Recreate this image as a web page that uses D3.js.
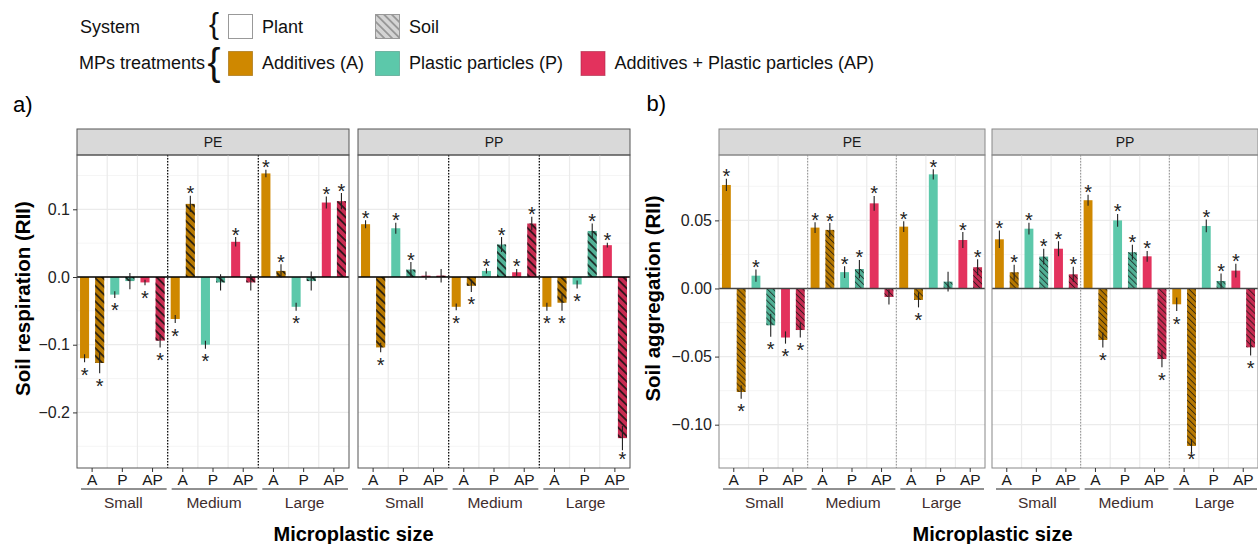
<!DOCTYPE html>
<html lang="en">
<head>
<meta charset="UTF-8">
<title>Microplastic effects (RII)</title>
<script src="https://cdnjs.cloudflare.com/ajax/libs/d3/7.8.5/d3.min.js"></script>
<style>
  body { margin: 0; background: #fff; }
  svg { display: block; font-family: "Liberation Sans", Arial, sans-serif; }
</style>
</head>
<body>
<svg id="chart" width="1258" height="544"></svg>
<script>
const sizes = ["Small", "Medium", "Large"];
const treatments = ["A", "P", "AP"];
const systems = ["Plant", "Soil"];
const polymers = ["PE", "PP"];
const treatmentColors = { A: "#CF8800", P: "#5CC8AA", AP: "#E3325D" };
const treatmentLabels = ["Additives (A)", "Plastic particles (P)", "Additives + Plastic particles (AP)"];

// every series is ordered size -> treatment -> system (Plant, Soil)
const respPE    = [-0.120, -0.127, -0.026, -0.006, -0.008, -0.094,
                   -0.062,  0.108, -0.100, -0.008,  0.052, -0.008,
                    0.153,  0.009, -0.044, -0.006,  0.110,  0.112];
const respPEse  = [0.006, 0.015, 0.005, 0.012, 0.004, 0.010,
                   0.006, 0.012, 0.006, 0.012, 0.007, 0.012,
                   0.0055, 0.010, 0.006, 0.014, 0.009, 0.012];
const respPEsig = [1, 1, 1, 0, 1, 1,  1, 1, 1, 0, 1, 0,  1, 1, 1, 0, 1, 1];

const respPP    = [ 0.078, -0.104,  0.072,  0.011,  0.002,  0.002,
                   -0.044, -0.013,  0.009,  0.048,  0.007,  0.079,
                   -0.044, -0.038, -0.011,  0.068,  0.047, -0.238];
const respPPse  = [0.006, 0.007, 0.008, 0.011, 0.006, 0.010,
                   0.005, 0.009, 0.004, 0.011, 0.005, 0.010,
                   0.006, 0.012, 0.006, 0.011, 0.0035, 0.018];
const respPPsig = [1, 1, 1, 1, 0, 0,  1, 1, 1, 1, 1, 1,  1, 1, 1, 1, 1, 1];

const aggPE     = [ 0.076, -0.076,  0.0094, -0.027, -0.036, -0.0305,
                    0.0447, 0.043,  0.012,   0.0143, 0.0625, -0.0062,
                    0.0454, -0.0084, 0.0838, 0.005,  0.0356, 0.0156];
const aggPEse   = [0.0045, 0.005, 0.0045, 0.0085, 0.0045, 0.0055,
                   0.004, 0.005, 0.0043, 0.0067, 0.0054, 0.0055,
                   0.004, 0.0055, 0.0038, 0.0073, 0.0058, 0.0058];
const aggPEsig  = [1, 1, 1, 1, 1, 1,  1, 1, 1, 1, 1, 0,  1, 1, 1, 0, 1, 1];

const aggPP     = [ 0.0361,  0.0119, 0.0439, 0.0234, 0.0292,  0.0104,
                    0.0648, -0.0378, 0.050,  0.0266, 0.0236, -0.0518,
                   -0.0116, -0.1156, 0.0459, 0.0055, 0.0131, -0.0432];
const aggPPse   = [0.0064, 0.0055, 0.0043, 0.0058, 0.0055, 0.0055,
                   0.004, 0.0055, 0.0047, 0.0055, 0.004, 0.006,
                   0.005, 0.005, 0.0047, 0.0055, 0.005, 0.006];
const aggPPsig  = [1, 1, 1, 1, 1, 1,  1, 1, 1, 1, 1, 1,  1, 1, 1, 1, 1, 1];

const respTicks = [0.1, 0.0, -0.1, -0.2];
const aggTicks = [0.05, 0.00, -0.05, -0.10];

const svg = d3.select("#chart");
const defs = svg.append("defs");

// diagonal stripes used for the "Soil" bars
function stripePattern(id, size, width, color, opacity) {
  const p = defs.append("pattern")
      .attr("id", id)
      .attr("patternUnits", "userSpaceOnUse")
      .attr("width", size).attr("height", size)
      .attr("patternTransform", "rotate(45)");
  p.append("line")
      .attr("x1", 0).attr("x2", size)
      .attr("y1", size / 2).attr("y2", size / 2)
      .attr("stroke", color).attr("stroke-width", width)
      .attr("stroke-opacity", opacity);
}
stripePattern("stripesA", 5.5, 1.7, "#111", 0.85);
stripePattern("stripesB", 4.2, 1.0, "#111", 0.75);
stripePattern("stripesLegend", 5.5, 1.5, "#8a8a8a", 1);

function buildRows(mean, se, sig) {
  const out = [];
  let i = 0;
  sizes.forEach(size => treatments.forEach(tr => systems.forEach(sys => {
    out.push({ size, tr, sys, mean: mean[i], se: se[i], sig: sig[i] });
    i++;
  })));
  return out;
}

function drawPanel(opt) {
  const { x0, w, y, rows, label, ticks, fmt, showY, style } = opt;
  const top = y.range()[1], bottom = y.range()[0];
  const g = svg.append("g");

  const pairKeys = sizes.flatMap(s => treatments.map(t => s + "|" + t));
  const xPair = d3.scaleBand().domain(pairKeys).range([x0, x0 + w]);
  const xSys = d3.scaleBand().domain(systems).range([0, xPair.bandwidth()])
      .paddingInner(0.4).paddingOuter(0.2);
  const xSize = d3.scaleBand().domain(sizes).range([x0, x0 + w]);

  // strip
  g.append("rect")
      .attr("x", x0).attr("y", top - 26).attr("width", w).attr("height", 26)
      .attr("fill", "#D9D9D9").attr("stroke", style === "a" ? "#555" : "#888").attr("stroke-width", 1);
  g.append("text")
      .attr("x", x0 + w / 2).attr("y", top - 13).attr("dy", "0.35em")
      .attr("text-anchor", "middle").attr("font-size", 14).attr("fill", "#1a1a1a")
      .text(label);

  // grid
  const step = Math.abs(ticks[0] - ticks[1]);
  const minor = d3.range(-20, 20).map(k => (k + 0.5) * step)
      .filter(v => v > y.domain()[0] && v < y.domain()[1]);
  g.selectAll(".minor").data(minor).enter().append("line")
      .attr("x1", x0).attr("x2", x0 + w)
      .attr("y1", d => y(d)).attr("y2", d => y(d))
      .attr("stroke", "#F2F2F2").attr("stroke-width", 0.8);
  g.selectAll(".major").data(ticks).enter().append("line")
      .attr("x1", x0).attr("x2", x0 + w)
      .attr("y1", d => y(d)).attr("y2", d => y(d))
      .attr("stroke", "#EBEBEB").attr("stroke-width", 1.2);
  g.selectAll(".vgrid").data(pairKeys.slice(1)).enter().append("line")
      .attr("x1", d => xPair(d)).attr("x2", d => xPair(d))
      .attr("y1", top).attr("y2", bottom)
      .attr("stroke", "#EBEBEB").attr("stroke-width", 1.2);

  // bars
  const bx = d => xPair(d.size + "|" + d.tr) + xSys(d.sys);
  const bars = g.append("g");
  bars.selectAll("rect.base").data(rows).enter().append("rect")
      .attr("x", bx)
      .attr("width", xSys.bandwidth())
      .attr("y", d => y(Math.max(0, d.mean)))
      .attr("height", d => Math.abs(y(d.mean) - y(0)))
      .attr("fill", d => d.sys === "Soil"
          ? d3.color(treatmentColors[d.tr]).darker(0.35) : treatmentColors[d.tr]);
  bars.selectAll("rect.hatch").data(rows.filter(d => d.sys === "Soil")).enter().append("rect")
      .attr("x", bx)
      .attr("width", xSys.bandwidth())
      .attr("y", d => y(Math.max(0, d.mean)))
      .attr("height", d => Math.abs(y(d.mean) - y(0)))
      .attr("fill", style === "a" ? "url(#stripesA)" : "url(#stripesB)");

  // zero line
  g.append("line")
      .attr("x1", x0).attr("x2", x0 + w)
      .attr("y1", y(0)).attr("y2", y(0))
      .attr("stroke", style === "a" ? "#000" : "#444")
      .attr("stroke-width", style === "a" ? 1.7 : 1.4);

  // size separators
  g.selectAll(".sep").data(sizes.slice(1)).enter().append("line")
      .attr("x1", d => xSize(d)).attr("x2", d => xSize(d))
      .attr("y1", top).attr("y2", bottom)
      .attr("stroke", style === "a" ? "#111" : "#777")
      .attr("stroke-width", style === "a" ? 1.3 : 0.8)
      .attr("stroke-dasharray", style === "a" ? "1.4,1.6" : "1.5,1.5");

  // error bars and stars (stars kept inside the panel)
  const cx = d => bx(d) + xSys.bandwidth() / 2;
  g.selectAll(".err").data(rows).enter().append("line")
      .attr("x1", cx).attr("x2", cx)
      .attr("y1", d => y(d.mean - d.se)).attr("y2", d => y(d.mean + d.se))
      .attr("stroke", "#222").attr("stroke-width", 1.1);
  g.selectAll(".star").data(rows.filter(d => d.sig)).enter().append("text")
      .attr("x", cx)
      .attr("y", d => d.mean >= 0
          ? y(d.mean + d.se) + 4.5
          : Math.min(y(d.mean - d.se) + 19.5, bottom - 2.5))
      .attr("text-anchor", "middle").attr("font-size", 20).attr("fill", "#222")
      .text("*");

  // panel border
  g.append("rect")
      .attr("x", x0).attr("y", top).attr("width", w).attr("height", bottom - top)
      .attr("fill", "none").attr("stroke", style === "a" ? "#555" : "#888").attr("stroke-width", 1);

  // x axis (treatments) with nested size labels
  const xAxis = g.append("g")
      .attr("transform", `translate(0,${bottom})`)
      .call(d3.axisBottom(xPair).tickSize(4).tickPadding(2).tickFormat(k => k.split("|")[1]));
  xAxis.select(".domain").remove();
  xAxis.selectAll("line").attr("stroke", "#333");
  xAxis.selectAll("text").attr("font-size", 15.5).attr("fill", "#1a1a1a")
      .attr("font-family", "Liberation Sans, Arial, sans-serif");

  g.selectAll(".grpline").data(sizes).enter().append("line")
      .attr("x1", d => xSize(d) + 4).attr("x2", d => xSize(d) + xSize.bandwidth() - 1)
      .attr("y1", bottom + 21).attr("y2", bottom + 21)
      .attr("stroke", "#222").attr("stroke-width", 1);
  g.selectAll(".grplabel").data(sizes).enter().append("text")
      .attr("x", d => xSize(d) + xSize.bandwidth() / 2 + 1)
      .attr("y", bottom + 40)
      .attr("text-anchor", "middle").attr("font-size", 15.5).attr("fill", "#3f2e2e")
      .text(d => d);

  if (showY) {
    const yAxis = g.append("g")
        .attr("transform", `translate(${x0},0)`)
        .call(d3.axisLeft(y).tickValues(ticks).tickSize(4).tickPadding(3).tickFormat(d3.format(fmt)));
    yAxis.select(".domain").remove();
    yAxis.selectAll("line").attr("stroke", "#333");
    yAxis.selectAll("text").attr("font-size", 16).attr("fill", "#222")
        .attr("font-family", "Liberation Sans, Arial, sans-serif");
  }
}

// ---- panel a) soil respiration
const yResp = d3.scaleLinear().domain([-0.2821, 0.1802]).range([468, 155]);
drawPanel({ x0: 77, w: 272, y: yResp, rows: buildRows(respPE, respPEse, respPEsig),
  label: polymers[0], ticks: respTicks, fmt: ".1f", showY: true, style: "a" });
drawPanel({ x0: 358, w: 272, y: yResp, rows: buildRows(respPP, respPPse, respPPsig),
  label: polymers[1], ticks: respTicks, fmt: ".1f", showY: false, style: "a" });

// ---- panel b) soil aggregation (kept inside the 1258px frame)
const yAgg = d3.scaleLinear().domain([-0.1318, 0.098]).range([468, 155]);
drawPanel({ x0: 719, w: 266, y: yAgg, rows: buildRows(aggPE, aggPEse, aggPEsig),
  label: polymers[0], ticks: aggTicks, fmt: ".2f", showY: true, style: "b" });
drawPanel({ x0: 992, w: 266, y: yAgg, rows: buildRows(aggPP, aggPPse, aggPPsig),
  label: polymers[1], ticks: aggTicks, fmt: ".2f", showY: false, style: "b" });

// titles
function yTitle(x, text) {
  svg.append("text")
      .attr("transform", `translate(${x},298.5) rotate(-90)`)
      .attr("text-anchor", "middle").attr("font-size", 20.5).attr("font-weight", "bold")
      .attr("fill", "#000").text(text);
}
yTitle(30, "Soil respiration (RII)");
yTitle(660, "Soil aggregation (RII)");

svg.append("text").attr("x", 353.5).attr("y", 541).attr("text-anchor", "middle")
    .attr("font-size", 20).attr("font-weight", "bold").text("Microplastic size");
svg.append("text").attr("x", 992.5).attr("y", 541).attr("text-anchor", "middle")
    .attr("font-size", 20).attr("font-weight", "bold").text("Microplastic size");

svg.append("text").attr("x", 13).attr("y", 112).attr("font-size", 22).text("a)");
svg.append("text").attr("x", 646.5).attr("y", 111).attr("font-size", 22).text("b)");

// legend
const leg = svg.append("g").attr("font-size", 18).attr("fill", "#111");
leg.append("text").attr("x", 80).attr("y", 32.5).text("System");
leg.append("text").attr("x", 79).attr("y", 69).text("MPs treatments");
leg.append("text").attr("x", 209).attr("y", 33.5).attr("font-size", 30).text("{");
leg.append("text").attr("x", 207.5).attr("y", 75).attr("font-size", 39).text("{");

leg.append("rect").attr("x", 228.5).attr("y", 14.5).attr("width", 24).attr("height", 24)
    .attr("fill", "#fff").attr("stroke", "#999");
leg.append("text").attr("x", 262).attr("y", 32.5).text(systems[0]);
leg.append("rect").attr("x", 375.5).attr("y", 14.5).attr("width", 24).attr("height", 24)
    .attr("fill", "#D4D4D4").attr("stroke", "#999");
leg.append("rect").attr("x", 375.5).attr("y", 14.5).attr("width", 24).attr("height", 24)
    .attr("fill", "url(#stripesLegend)").attr("stroke", "#999");
leg.append("text").attr("x", 409).attr("y", 32.5).text(systems[1]);

const legX = [228.5, 375.5, 581];
treatments.forEach((t, i) => {
  leg.append("rect").attr("x", legX[i]).attr("y", 51.5).attr("width", 24).attr("height", 24)
      .attr("fill", treatmentColors[t])
      .attr("stroke", d3.color(treatmentColors[t]).darker(0.8)).attr("stroke-opacity", 0.6);
  leg.append("text").attr("x", legX[i] + 33.5).attr("y", 69).text(treatmentLabels[i]);
});
</script>
</body>
</html>
